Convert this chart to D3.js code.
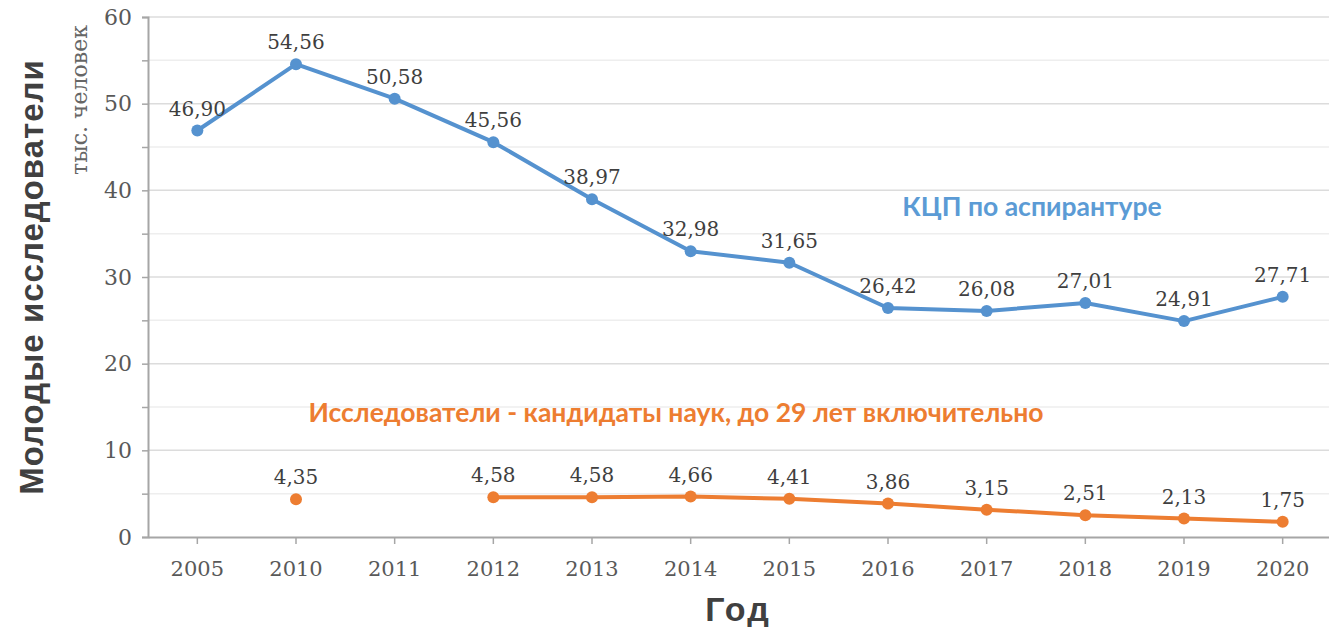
<!DOCTYPE html>
<html>
<head>
<meta charset="utf-8">
<script src="https://cdn.jsdelivr.net/npm/d3@7"></script>
<style>
  body { margin: 0; background: #fff; }
  svg { display: block; }
</style>
</head>
<body>
<svg width="1329" height="627"></svg>
<script>
// data
const years = ["2005", "2010", "2011", "2012", "2013", "2014", "2015", "2016", "2017", "2018", "2019", "2020"];
const kcp = [46.90, 54.56, 50.58, 45.56, 38.97, 32.98, 31.65, 26.42, 26.08, 27.01, 24.91, 27.71];
const young = [null, 4.35, null, 4.58, 4.58, 4.66, 4.41, 3.86, 3.15, 2.51, 2.13, 1.75];
const yTicks = [0, 10, 20, 30, 40, 50, 60];

const svg = d3.select("svg");
const margin = {left: 148, right: -3, top: 17, bottom: 90};
const width = 1329, height = 627;

const x = d3.scaleBand()
    .domain(years)
    .range([margin.left, width - margin.right]);

const y = d3.scaleLinear()
    .domain([0, 60])
    .range([height - margin.bottom, margin.top]);

const cx = d => x(d) + x.bandwidth() / 2;
const fmt = v => v.toFixed(2).replace(".", ",");

// gridlines: minor every 5, major every 10
const minor = d3.range(5, 60, 10);
svg.append("g").selectAll("line")
    .data(minor)
    .join("line")
    .attr("x1", margin.left).attr("x2", width)
    .attr("y1", d => y(d)).attr("y2", d => y(d))
    .attr("stroke", "#eeeeee").attr("stroke-width", 1.5);

svg.append("g").selectAll("line")
    .data(yTicks.slice(1))
    .join("line")
    .attr("x1", margin.left).attr("x2", width)
    .attr("y1", d => y(d)).attr("y2", d => y(d))
    .attr("stroke", "#dcdcdc").attr("stroke-width", 1.5);

// y axis
const yAxis = svg.append("g")
    .attr("transform", `translate(${margin.left},0)`)
    .call(d3.axisLeft(y).tickValues(d3.range(0, 61, 5)).tickSize(6).tickFormat(d => d % 10 === 0 ? d : ""));
yAxis.select(".domain").attr("stroke", "#a6a6a6").attr("stroke-width", 2);
yAxis.selectAll(".tick line").attr("stroke", "#a6a6a6").attr("stroke-width", 1.5);
yAxis.selectAll(".tick text")
    .attr("x", -16)
    .style("font-family", "DejaVu Serif")
    .style("font-size", "22px")
    .attr("fill", "#595959");

// x axis
const xAxis = svg.append("g")
    .attr("transform", `translate(0,${y(0)})`)
    .call(d3.axisBottom(x).tickSize(7).tickSizeOuter(0));
xAxis.select(".domain").attr("stroke", "#a6a6a6").attr("stroke-width", 2);
xAxis.selectAll(".tick line").attr("stroke", "#a6a6a6").attr("stroke-width", 1.5);
xAxis.selectAll(".tick text")
    .attr("y", 24)
    .style("font-family", "DejaVu Serif")
    .style("font-size", "21px")
    .attr("fill", "#595959");

// lines
const blue = "#5592cf", orange = "#ed7d31";

const line = d3.line()
    .defined(d => d.v != null)
    .x(d => cx(d.year))
    .y(d => y(d.v));

const blueData = years.map((yr, i) => ({year: yr, v: kcp[i]}));
const orangeData = years.map((yr, i) => ({year: yr, v: young[i]}));

svg.append("path")
    .datum(blueData)
    .attr("d", line)
    .attr("fill", "none")
    .attr("stroke", blue)
    .attr("stroke-width", 4)
    .attr("stroke-linejoin", "round");

svg.append("path")
    .datum(orangeData)
    .attr("d", line)
    .attr("fill", "none")
    .attr("stroke", orange)
    .attr("stroke-width", 4)
    .attr("stroke-linejoin", "round");

svg.append("g").selectAll("circle")
    .data(blueData)
    .join("circle")
    .attr("cx", d => cx(d.year))
    .attr("cy", d => y(d.v))
    .attr("r", 6)
    .attr("fill", blue);

svg.append("g").selectAll("circle")
    .data(orangeData.filter(d => d.v != null))
    .join("circle")
    .attr("cx", d => cx(d.year))
    .attr("cy", d => y(d.v))
    .attr("r", 6)
    .attr("fill", orange);

// data labels
const labels = blueData.concat(orangeData.filter(d => d.v != null));
svg.append("g").selectAll("text")
    .data(labels)
    .join("text")
    .attr("x", d => cx(d.year))
    .attr("y", d => y(d.v) - 15)
    .attr("text-anchor", "middle")
    .style("font-family", "DejaVu Serif")
    .style("font-size", "20px")
    .attr("fill", "#3f3f3f")
    .text(d => fmt(d.v));

// series names
svg.append("text")
    .attr("x", 1032).attr("y", 216)
    .attr("text-anchor", "middle")
    .style("font-family", "Lato")
    .style("font-weight", "bold")
    .style("font-size", "26.5px")
    .attr("fill", "#5b9bd5")
    .text("КЦП по аспирантуре");

svg.append("text")
    .attr("x", 676).attr("y", 422)
    .attr("text-anchor", "middle")
    .style("font-family", "Lato")
    .style("font-weight", "bold")
    .style("font-size", "26.5px")
    .attr("fill", "#ed7d31")
    .text("Исследователи - кандидаты наук, до 29 лет включительно");

// axis titles
svg.append("text")
    .attr("transform", "translate(43,277) rotate(-90)")
    .attr("text-anchor", "middle")
    .style("font-family", "Liberation Sans")
    .style("font-weight", "bold")
    .style("font-size", "33px")
    .style("letter-spacing", "1px")
    .attr("fill", "#404040")
    .text("Молодые исследователи");

svg.append("text")
    .attr("transform", "translate(87,100) rotate(-90)")
    .attr("text-anchor", "middle")
    .style("font-family", "DejaVu Serif")
    .style("font-size", "22px")
    .attr("fill", "#666666")
    .text("тыс. человек");

svg.append("text")
    .attr("x", 738).attr("y", 621)
    .attr("text-anchor", "middle")
    .style("font-family", "Liberation Sans")
    .style("font-weight", "bold")
    .style("font-size", "34px")
    .style("letter-spacing", "2px")
    .attr("fill", "#404040")
    .text("Год");
</script>
</body>
</html>
